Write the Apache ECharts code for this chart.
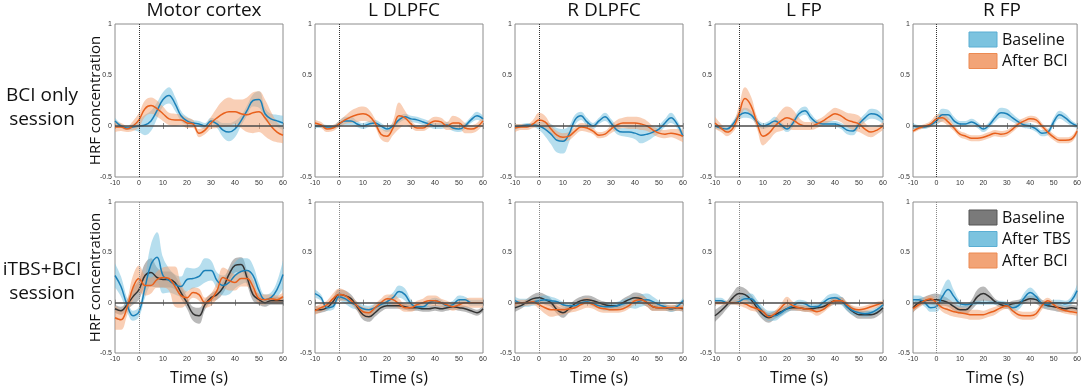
<!DOCTYPE html>
<html>
<head>
<meta charset="utf-8">
<script src="https://cdn.jsdelivr.net/npm/echarts@6/dist/echarts.min.js"></script>
<style>
  html, body { margin: 0; padding: 0; background: #fff; }
  #main { width: 1084px; height: 387px; }
</style>
</head>
<body>
<div id="main"></div>
<script>
// time axis (s)
var timeS = [-10, -7.5, -5, -2.5, 0, 2.5, 5, 7.5, 10, 12.5, 15, 17.5, 20, 22.5, 25, 27.5, 30, 32.5, 35, 37.5, 40, 42.5, 45, 47.5, 50, 52.5, 55, 57.5, 60];
var regionNames = ['Motor cortex', 'L DLPFC', 'R DLPFC', 'L FP', 'R FP'];
var rowNames = [['BCI only', 'session'], ['iTBS+BCI', 'session']];

// ---- BCI only session: Baseline / After BCI (mean, error) ----
var motorBciBase     = [0.05,0.00,-0.02,-0.01,0.00, 0.01,0.05,0.15,0.26, 0.30,0.22,0.10,0.05, 0.03,0.02,0.00,0.05, 0.02,-0.04,-0.06,-0.03, 0.05,0.15,0.25,0.26, 0.12,0.07,0.05,0.03];
var motorBciBaseErr  = [0.03,0.02,0.02,0.03,0.06, 0.10,0.10,0.08,0.07, 0.08,0.07,0.05,0.04, 0.03,0.03,0.03,0.03, 0.04,0.07,0.09,0.08, 0.05,0.05,0.06,0.08, 0.06,0.05,0.06,0.07];
var motorBciAfter    = [-0.01,-0.01,-0.03,0.00,0.06, 0.17,0.20,0.17,0.12, 0.07,0.06,0.06,0.03, 0.02,-0.07,-0.04,0.03, 0.08,0.12,0.14,0.14, 0.12,0.11,0.13,0.14, 0.08,0.00,-0.06,-0.09];
var motorBciAfterErr = [0.05,0.04,0.03,0.05,0.07, 0.08,0.08,0.08,0.07, 0.06,0.06,0.05,0.05, 0.04,0.04,0.04,0.06, 0.10,0.13,0.14,0.12, 0.14,0.17,0.20,0.20, 0.18,0.14,0.10,0.08];

var ldlBciBase     = [0.00,0.00,-0.01,-0.01,0.02, 0.05,0.05,0.02,0.00, 0.02,0.03,0.00,-0.03, 0.00,0.06,0.09,0.07, 0.06,0.04,0.02,0.00, 0.00,0.01,-0.02,-0.03, 0.00,0.06,0.10,0.07];
var ldlBciBaseErr  = [0.02,0.02,0.02,0.02,0.03, 0.04,0.04,0.03,0.03, 0.03,0.03,0.03,0.03, 0.03,0.03,0.03,0.03, 0.03,0.03,0.03,0.03, 0.03,0.03,0.03,0.03, 0.03,0.03,0.04,0.03];
var ldlBciAfter    = [0.03,0.01,-0.03,-0.02,0.02, 0.06,0.09,0.11,0.12, 0.10,0.03,-0.08,-0.10, -0.02,0.10,0.08,0.02, -0.02,-0.02,0.02,0.05, 0.04,0.00,0.03,0.03, -0.02,-0.03,-0.01,0.05];
var ldlBciAfterErr = [0.03,0.03,0.03,0.03,0.03, 0.04,0.06,0.07,0.07, 0.06,0.04,0.05,0.06, 0.07,0.13,0.07,0.04, 0.03,0.03,0.04,0.04, 0.04,0.04,0.07,0.05, 0.05,0.04,0.04,0.04];

var rdlBciBase     = [-0.01,0.00,0.01,0.01,0.00, -0.03,-0.08,-0.14,-0.15, -0.08,0.06,0.10,0.04, 0.00,0.05,0.09,0.03, -0.04,-0.06,-0.06,-0.07, -0.09,-0.08,-0.06,-0.03, 0.03,0.08,0.02,-0.10];
var rdlBciBaseErr  = [0.03,0.02,0.02,0.02,0.04, 0.07,0.10,0.12,0.12, 0.08,0.05,0.04,0.04, 0.03,0.03,0.04,0.04, 0.04,0.04,0.05,0.06, 0.08,0.07,0.05,0.04, 0.04,0.05,0.04,0.04];
var rdlBciAfter    = [-0.02,-0.01,-0.01,0.02,0.06, 0.04,-0.03,-0.09,-0.11, -0.10,-0.05,-0.01,-0.02, -0.05,-0.09,-0.08,-0.03, 0.01,0.03,0.03,0.03, 0.02,0.00,-0.04,-0.07, -0.08,-0.07,-0.08,-0.10];
var rdlBciAfterErr = [0.04,0.03,0.03,0.04,0.07, 0.06,0.04,0.04,0.04, 0.04,0.04,0.04,0.04, 0.03,0.03,0.03,0.04, 0.05,0.05,0.06,0.06, 0.06,0.05,0.04,0.04, 0.04,0.04,0.05,0.06];

var lfpBciBase     = [0.00,-0.02,-0.03,0.02,0.10, 0.13,0.11,0.04,0.00, 0.02,0.05,0.01,-0.03, 0.03,0.12,0.15,0.08, 0.03,0.02,0.02,0.02, 0.00,-0.04,-0.05,0.02, 0.08,0.12,0.11,0.06];
var lfpBciBaseErr  = [0.03,0.02,0.02,0.03,0.04, 0.05,0.04,0.03,0.03, 0.03,0.04,0.03,0.03, 0.04,0.04,0.04,0.04, 0.03,0.03,0.03,0.03, 0.03,0.04,0.04,0.04, 0.04,0.05,0.05,0.04];
var lfpBciAfter    = [0.03,-0.02,-0.06,-0.02,0.12, 0.27,0.20,0.03,-0.10, -0.07,0.00,0.05,0.08, 0.06,0.02,0.00,0.00, 0.02,0.05,0.09,0.12, 0.10,0.06,0.04,0.02, -0.03,-0.06,-0.04,0.00];
var lfpBciAfterErr = [0.06,0.04,0.04,0.04,0.08, 0.11,0.09,0.06,0.09, 0.07,0.07,0.10,0.11, 0.10,0.06,0.04,0.04, 0.04,0.04,0.05,0.06, 0.06,0.07,0.08,0.08, 0.06,0.05,0.04,0.04];

var rfpBciBase     = [0.00,-0.01,-0.01,0.01,0.05, 0.11,0.11,0.05,0.02, 0.02,0.04,0.01,-0.03, 0.01,0.08,0.13,0.12, 0.08,0.04,0.01,0.00, -0.03,-0.07,-0.06,0.04, 0.11,0.08,0.03,0.00];
var rfpBciBaseErr  = [0.03,0.02,0.02,0.02,0.04, 0.06,0.05,0.04,0.03, 0.03,0.03,0.03,0.03, 0.03,0.04,0.05,0.05, 0.04,0.03,0.03,0.03, 0.03,0.03,0.03,0.04, 0.04,0.04,0.03,0.02];
var rfpBciAfter    = [-0.05,-0.02,0.00,0.02,0.07, 0.08,0.04,-0.02,-0.08, -0.10,-0.12,-0.12,-0.11, -0.09,-0.07,-0.08,-0.07, -0.03,0.02,0.05,0.07, 0.06,0.00,-0.06,-0.11, -0.14,-0.14,-0.13,-0.05];
var rfpBciAfterErr = [0.02,0.02,0.02,0.03,0.04, 0.04,0.04,0.03,0.03, 0.03,0.03,0.03,0.03, 0.03,0.03,0.03,0.03, 0.03,0.03,0.03,0.03, 0.03,0.03,0.03,0.03, 0.03,0.03,0.03,0.03];

// ---- iTBS+BCI session: Baseline / After TBS / After BCI ----
var motorTbsBase        = [-0.06,-0.08,-0.02,0.06,0.13, 0.27,0.30,0.25,0.23, 0.23,0.20,0.10,0.00, -0.11,-0.13,-0.02,0.05, 0.08,0.15,0.28,0.37, 0.38,0.25,0.08,0.03, 0.00,0.02,0.02,0.02];
var motorTbsBaseErr     = [0.04,0.04,0.05,0.08,0.10, 0.12,0.14,0.10,0.08, 0.08,0.07,0.06,0.06, 0.07,0.08,0.05,0.04, 0.05,0.06,0.07,0.07, 0.07,0.07,0.06,0.05, 0.04,0.04,0.04,0.04];
var motorTbsAfterTbs    = [0.27,0.16,-0.02,-0.13,-0.09, 0.15,0.38,0.45,0.27, 0.22,0.18,0.16,0.23, 0.24,0.26,0.32,0.32, 0.22,0.17,0.20,0.27, 0.31,0.32,0.27,0.12, 0.03,0.05,0.13,0.28];
var motorTbsAfterTbsErr = [0.12,0.10,0.07,0.05,0.05, 0.10,0.20,0.25,0.18, 0.12,0.10,0.10,0.12, 0.10,0.10,0.12,0.10, 0.08,0.10,0.12,0.13, 0.13,0.12,0.10,0.07, 0.05,0.05,0.08,0.14];
var motorTbsAfterBci    = [-0.15,-0.17,-0.05,0.15,0.24, 0.17,0.17,0.23,0.25, 0.24,0.16,0.07,0.05, 0.10,0.08,0.00,0.03, 0.12,0.25,0.22,0.20, 0.24,0.24,0.16,0.04, 0.03,0.04,0.03,0.06];
var motorTbsAfterBciErr = [0.12,0.10,0.08,0.12,0.13, 0.10,0.08,0.08,0.10, 0.12,0.20,0.12,0.06, 0.05,0.06,0.05,0.06, 0.08,0.10,0.10,0.08, 0.08,0.08,0.07,0.05, 0.05,0.04,0.04,0.04];

var ldlTbsBase        = [-0.07,-0.07,-0.05,0.01,0.08, 0.07,0.04,-0.04,-0.12, -0.14,-0.10,-0.05,-0.03, -0.03,-0.03,-0.04,-0.05, -0.05,-0.06,-0.06,-0.05, -0.06,-0.05,-0.04,-0.05, -0.06,-0.08,-0.10,-0.06];
var ldlTbsBaseErr     = [0.04,0.03,0.03,0.04,0.05, 0.05,0.04,0.04,0.05, 0.05,0.04,0.04,0.03, 0.03,0.03,0.03,0.03, 0.03,0.03,0.03,0.03, 0.03,0.03,0.03,0.03, 0.03,0.03,0.03,0.03];
var ldlTbsAfterTbs    = [0.09,0.05,-0.05,-0.04,0.06, 0.04,0.00,-0.03,-0.06, -0.07,-0.05,-0.02,0.01, 0.05,0.11,0.08,-0.01, -0.04,-0.04,0.00,0.02, 0.00,-0.03,-0.02,0.03, 0.03,0.00,0.00,0.00];
var ldlTbsAfterTbsErr = [0.04,0.03,0.03,0.03,0.04, 0.05,0.05,0.04,0.04, 0.04,0.04,0.04,0.04, 0.05,0.06,0.06,0.04, 0.03,0.03,0.03,0.03, 0.03,0.03,0.04,0.04, 0.03,0.03,0.03,0.03];
var ldlTbsAfterBci    = [-0.08,-0.05,-0.02,0.04,0.08, 0.07,0.02,-0.03,-0.09, -0.10,-0.05,0.00,0.04, 0.03,-0.01,-0.05,-0.05, -0.02,0.00,0.02,0.02, 0.00,-0.02,-0.04,-0.02, 0.00,0.00,0.00,0.00];
var ldlTbsAfterBciErr = [0.04,0.04,0.04,0.05,0.06, 0.05,0.04,0.04,0.05, 0.05,0.04,0.04,0.04, 0.05,0.05,0.04,0.04, 0.04,0.04,0.05,0.05, 0.04,0.04,0.04,0.04, 0.04,0.05,0.05,0.05];

var rdlTbsBase        = [-0.05,-0.03,0.01,0.04,0.05, 0.03,0.00,-0.07,-0.10, -0.06,-0.01,0.02,0.03, 0.02,0.00,-0.02,-0.03, -0.03,0.00,0.03,0.05, 0.04,0.00,-0.04,-0.05, -0.05,-0.06,-0.05,-0.06];
var rdlTbsBaseErr     = [0.04,0.03,0.03,0.04,0.05, 0.05,0.04,0.04,0.05, 0.04,0.04,0.04,0.04, 0.04,0.03,0.03,0.03, 0.03,0.04,0.04,0.05, 0.05,0.04,0.04,0.03, 0.03,0.03,0.03,0.03];
var rdlTbsAfterTbs    = [0.02,0.00,0.00,0.01,0.02, 0.03,0.02,0.01,-0.02, -0.03,-0.03,0.00,0.01, -0.01,-0.03,-0.04,-0.04, -0.03,-0.01,0.00,0.00, 0.02,0.03,0.01,-0.02, -0.04,-0.06,-0.04,0.02];
var rdlTbsAfterTbsErr = [0.04,0.04,0.04,0.04,0.04, 0.04,0.04,0.03,0.03, 0.03,0.03,0.03,0.03, 0.03,0.03,0.04,0.04, 0.04,0.04,0.05,0.06, 0.06,0.06,0.05,0.04, 0.03,0.03,0.03,0.03];
var rdlTbsAfterBci    = [-0.01,0.00,0.00,0.01,-0.02, -0.05,-0.07,-0.07,-0.07, -0.06,-0.05,-0.02,0.00, -0.02,-0.05,-0.06,-0.07, -0.07,-0.06,-0.03,0.02, 0.03,0.00,-0.04,-0.05, -0.05,-0.05,-0.05,-0.05];
var rdlTbsAfterBciErr = [0.03,0.03,0.03,0.03,0.04, 0.06,0.07,0.06,0.05, 0.04,0.04,0.05,0.05, 0.04,0.04,0.04,0.03, 0.03,0.03,0.03,0.04, 0.04,0.04,0.04,0.03, 0.03,0.03,0.03,0.03];

var lfpTbsBase        = [-0.13,-0.08,-0.02,0.05,0.09, 0.08,0.03,-0.05,-0.12, -0.15,-0.12,-0.09,-0.06, -0.05,-0.05,-0.06,-0.06, -0.05,-0.04,-0.01,0.02, 0.02,-0.04,-0.09,-0.12, -0.12,-0.12,-0.10,-0.05];
var lfpTbsBaseErr     = [0.06,0.05,0.04,0.05,0.07, 0.06,0.05,0.05,0.05, 0.05,0.04,0.04,0.03, 0.03,0.03,0.03,0.03, 0.03,0.03,0.03,0.04, 0.04,0.04,0.04,0.04, 0.04,0.04,0.04,0.04];
var lfpTbsAfterTbs    = [0.02,0.02,0.00,0.00,0.01, 0.04,0.04,-0.02,-0.09, -0.13,-0.13,-0.10,-0.06, -0.03,0.00,-0.01,-0.04, -0.04,0.00,0.04,0.05, 0.02,-0.04,-0.08,-0.10, -0.11,-0.10,-0.07,-0.02];
var lfpTbsAfterTbsErr = [0.03,0.03,0.02,0.02,0.03, 0.04,0.05,0.05,0.05, 0.05,0.05,0.04,0.04, 0.03,0.03,0.03,0.03, 0.03,0.03,0.04,0.04, 0.04,0.04,0.04,0.03, 0.03,0.03,0.03,0.03];
var lfpTbsAfterBci    = [0.00,0.00,0.00,0.00,0.00, -0.01,-0.04,-0.06,-0.09, -0.14,-0.11,-0.05,0.00, -0.03,-0.05,-0.06,-0.07, -0.09,-0.07,-0.02,0.02, 0.02,-0.02,-0.06,-0.07, -0.06,-0.04,-0.02,0.00];
var lfpTbsAfterBciErr = [0.02,0.02,0.02,0.02,0.03, 0.04,0.04,0.03,0.03, 0.03,0.03,0.04,0.06, 0.04,0.03,0.03,0.03, 0.04,0.03,0.03,0.03, 0.03,0.03,0.03,0.03, 0.03,0.03,0.03,0.02];

var rfpTbsBase        = [-0.05,0.00,0.02,0.03,0.03, 0.02,0.00,-0.04,-0.07, -0.07,-0.02,0.06,0.09, 0.06,0.01,-0.02,-0.03, -0.01,0.00,0.02,0.04, 0.03,-0.01,-0.03,-0.04, -0.05,-0.06,-0.05,-0.06];
var rfpTbsBaseErr     = [0.05,0.04,0.04,0.05,0.06, 0.05,0.04,0.04,0.04, 0.04,0.05,0.07,0.07, 0.05,0.03,0.03,0.03, 0.03,0.03,0.03,0.03, 0.04,0.04,0.04,0.04, 0.04,0.03,0.03,0.03];
var rfpTbsAfterTbs    = [0.03,0.03,0.00,-0.05,-0.04, 0.06,0.13,0.06,-0.01, -0.02,-0.01,0.00,0.00, 0.00,0.00,0.00,-0.02, -0.05,-0.03,0.05,0.10, 0.06,-0.01,-0.02,0.00, 0.00,-0.01,0.02,0.12];
var rfpTbsAfterTbsErr = [0.04,0.04,0.04,0.04,0.05, 0.08,0.10,0.06,0.03, 0.02,0.02,0.02,0.02, 0.02,0.02,0.02,0.03, 0.04,0.04,0.05,0.05, 0.04,0.03,0.03,0.03, 0.03,0.03,0.04,0.06];
var rfpTbsAfterBci    = [-0.06,-0.02,0.02,0.04,0.00, -0.05,-0.07,-0.09,-0.10, -0.11,-0.12,-0.12,-0.12, -0.10,-0.08,-0.05,-0.03, -0.08,-0.12,-0.13,-0.13, -0.11,-0.03,0.02,-0.02, -0.06,-0.08,-0.09,-0.10];
var rfpTbsAfterBciErr = [0.03,0.03,0.03,0.03,0.03, 0.04,0.05,0.05,0.05, 0.05,0.05,0.05,0.04, 0.04,0.04,0.03,0.03, 0.04,0.04,0.04,0.04, 0.04,0.04,0.03,0.03, 0.03,0.03,0.03,0.03];

var COL = {
    blue:   { line: '#1b80b8', band: 'rgba(110,190,222,0.5)', key: '#7cc3df', edge: '#5aaed3' },
    orange: { line: '#e8601c', band: 'rgba(244,160,110,0.5)', key: '#f2a477', edge: '#ec8a52' },
    gray:   { line: '#333333', band: 'rgba(100,100,100,0.45)', key: '#7a7a7a', edge: '#555555' }
};

var panels = [
    [[motorBciBase, motorBciBaseErr, 'blue'], [motorBciAfter, motorBciAfterErr, 'orange']],
    [[ldlBciBase, ldlBciBaseErr, 'blue'], [ldlBciAfter, ldlBciAfterErr, 'orange']],
    [[rdlBciBase, rdlBciBaseErr, 'blue'], [rdlBciAfter, rdlBciAfterErr, 'orange']],
    [[lfpBciBase, lfpBciBaseErr, 'blue'], [lfpBciAfter, lfpBciAfterErr, 'orange']],
    [[rfpBciBase, rfpBciBaseErr, 'blue'], [rfpBciAfter, rfpBciAfterErr, 'orange']],
    [[motorTbsBase, motorTbsBaseErr, 'gray'], [motorTbsAfterTbs, motorTbsAfterTbsErr, 'blue'], [motorTbsAfterBci, motorTbsAfterBciErr, 'orange']],
    [[ldlTbsBase, ldlTbsBaseErr, 'gray'], [ldlTbsAfterTbs, ldlTbsAfterTbsErr, 'blue'], [ldlTbsAfterBci, ldlTbsAfterBciErr, 'orange']],
    [[rdlTbsBase, rdlTbsBaseErr, 'gray'], [rdlTbsAfterTbs, rdlTbsAfterTbsErr, 'blue'], [rdlTbsAfterBci, rdlTbsAfterBciErr, 'orange']],
    [[lfpTbsBase, lfpTbsBaseErr, 'gray'], [lfpTbsAfterTbs, lfpTbsAfterTbsErr, 'blue'], [lfpTbsAfterBci, lfpTbsAfterBciErr, 'orange']],
    [[rfpTbsBase, rfpTbsBaseErr, 'gray'], [rfpTbsAfterTbs, rfpTbsAfterTbsErr, 'blue'], [rfpTbsAfterBci, rfpTbsAfterBciErr, 'orange']]
];

var legendTop = [['Baseline', 'blue'], ['After BCI', 'orange']];
var legendBottom = [['Baseline', 'gray'], ['After TBS', 'blue'], ['After BCI', 'orange']];

var FONT = '"Open Sans", "Noto Sans", sans-serif';
var lefts = [115, 315, 515, 715, 913];
var rowBox = [{ top: 24, height: 153 }, { top: 202, height: 158 }];
var timeCats = timeS.map(String);

var myChart = echarts.init(document.getElementById('main'));

var grids = [], xAxes = [], yAxes = [], series = [], titles = [];
var n = panels.length;
var tickStyle = { inside: true, length: 3, interval: 3, lineStyle: { color: '#8c8c8c' } };

for (var i = 0; i < n; i++) {
    var row = i < 5 ? 0 : 1, col = i % 5;
    grids.push({
        left: lefts[col], top: rowBox[row].top, width: 168, height: rowBox[row].height,
        show: true, borderColor: '#8c8c8c', borderWidth: 1, backgroundColor: '#fff'
    });
    xAxes.push({
        gridIndex: i, type: 'category', data: timeCats, boundaryGap: false, position: 'bottom',
        axisLine: { show: false },
        axisTick: tickStyle,
        axisLabel: { interval: 3, fontSize: 7, color: '#333', margin: 3, fontFamily: 'Liberation Sans' },
        splitLine: { show: false },
        name: row === 1 ? 'Time (s)' : '', nameLocation: 'middle', nameGap: 17,
        nameTextStyle: { fontSize: 16, color: '#111', fontFamily: FONT }
    });
    yAxes.push({
        gridIndex: i, type: 'value', min: -0.5, max: 1, interval: 0.5, position: 'left',
        axisLine: { show: false },
        axisTick: { inside: true, length: 3, lineStyle: { color: '#8c8c8c' } },
        axisLabel: { fontSize: 7, color: '#333', margin: 3, fontFamily: 'Liberation Sans' },
        splitLine: { show: false },
        name: col === 0 ? 'HRF concentration' : '', nameLocation: 'middle', nameGap: 12,
        nameMoveOverlap: false,
        nameTextStyle: { fontSize: 15, color: '#111', fontFamily: FONT }
    });
}
// mirrored ticks on top / right (MATLAB box style)
for (var i = 0; i < n; i++) {
    xAxes.push({
        gridIndex: i, type: 'category', data: timeCats, boundaryGap: false, position: 'top',
        axisLine: { show: false }, axisLabel: { show: false }, splitLine: { show: false },
        axisTick: tickStyle
    });
    yAxes.push({
        gridIndex: i, type: 'value', min: -0.5, max: 1, interval: 0.5, position: 'right',
        axisLine: { show: false }, axisLabel: { show: false }, splitLine: { show: false },
        axisTick: { inside: true, length: 3, lineStyle: { color: '#8c8c8c' } }
    });
}

for (var i = 0; i < n; i++) {
    var row = i < 5 ? 0 : 1;
    var lines = panels[i];
    // shaded error bands: lower edge + stacked width
    lines.forEach(function (ln, j) {
        var m = ln[0], e = ln[1], c = COL[ln[2]];
        var stackId = 'band' + i + '_' + j;
        series.push({
            type: 'line', xAxisIndex: i, yAxisIndex: i, stack: stackId, stackStrategy: 'all',
            smooth: 0.4, symbol: 'none', silent: true, z: 1,
            lineStyle: { opacity: 0 },
            data: m.map(function (v, k) { return +(v - e[k]).toFixed(3); })
        });
        series.push({
            type: 'line', xAxisIndex: i, yAxisIndex: i, stack: stackId, stackStrategy: 'all',
            smooth: 0.4, symbol: 'none', silent: true, z: 1,
            lineStyle: { opacity: 0 },
            areaStyle: { color: c.band, opacity: 1 },
            data: e.map(function (v) { return +(2 * v).toFixed(3); })
        });
    });
    // zero line and stimulus onset
    series.push({
        type: 'line', xAxisIndex: i, yAxisIndex: i, data: [], z: 2, silent: true,
        markLine: {
            silent: true, symbol: 'none', label: { show: false }, animation: false,
            data: [
                { yAxis: 0, lineStyle: { color: '#4a4a4a', type: 'solid', width: 1.5 } },
                { xAxis: '0', lineStyle: { color: row === 0 ? '#333' : '#888', type: 'dotted', width: 1 } }
            ]
        }
    });
    // means
    lines.forEach(function (ln) {
        var c = COL[ln[2]];
        series.push({
            type: 'line', xAxisIndex: i, yAxisIndex: i, smooth: 0.4, symbol: 'none', z: 3,
            lineStyle: { color: c.line, width: 1.5 },
            data: ln[0]
        });
    });
}

for (var col = 0; col < 5; col++) {
    titles.push({
        text: regionNames[col], left: lefts[col] + 84, top: -4, textAlign: 'center',
        textStyle: { fontSize: 19, fontWeight: 'normal', color: '#111', fontFamily: FONT }
    });
}

var graphics = [];
rowNames.forEach(function (r, ri) {
    var cy = ri === 0 ? 84 : 258;
    graphics.push({
        type: 'text', x: 42, y: cy, silent: true,
        style: { text: r.join('\n'), align: 'center', verticalAlign: 'top',
                 fill: '#111', font: '19px ' + FONT, lineHeight: 24 }
    });
});

function addLegend(items, y0) {
    items.forEach(function (it, k) {
        var c = COL[it[1]];
        var y = y0 + k * 21.5;
        graphics.push({ type: 'rect', shape: { x: 969, y: y, width: 28, height: 15 },
            style: { fill: c.key, stroke: c.edge, lineWidth: 1 }, silent: true, z: 10 });
        graphics.push({ type: 'text', x: 1002, y: y + 8, silent: true, z: 10,
            style: { text: it[0], verticalAlign: 'middle', fill: '#111', font: '16px ' + FONT } });
    });
}
addLegend(legendTop, 32);
addLegend(legendBottom, 210);

myChart.setOption({
    animation: false,
    title: titles,
    grid: grids,
    xAxis: xAxes,
    yAxis: yAxes,
    series: series,
    graphic: graphics
});
</script>
</body>
</html>
